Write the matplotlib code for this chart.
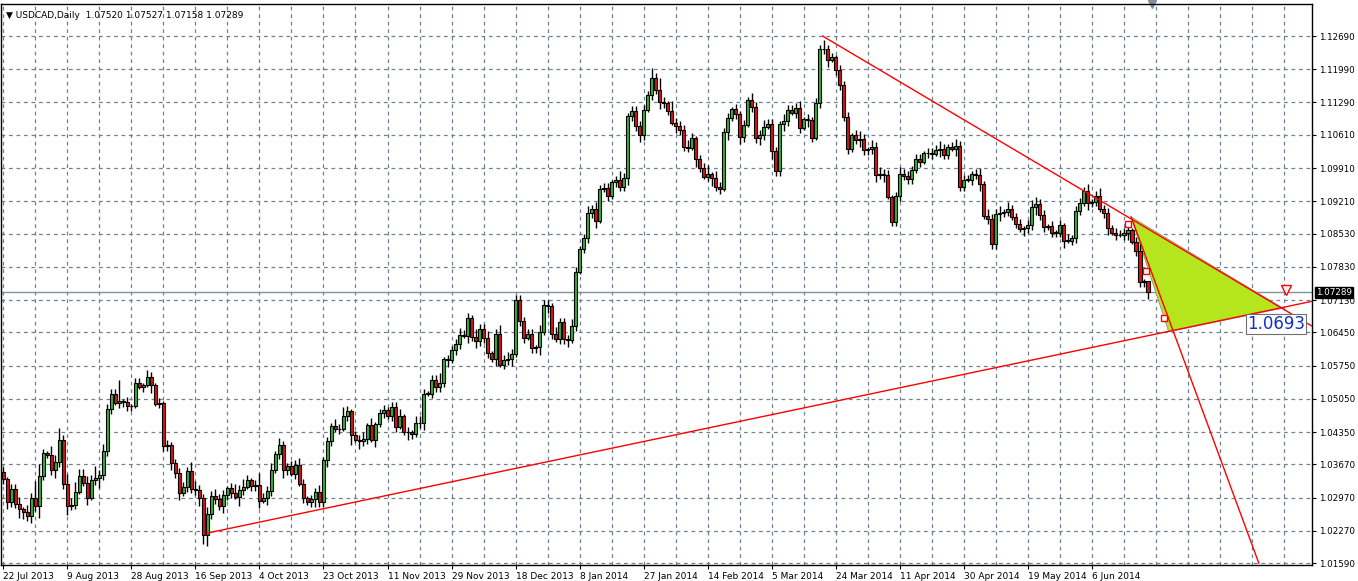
import matplotlib
matplotlib.use("Agg")
import matplotlib.pyplot as plt
from matplotlib.patches import Polygon, Rectangle
import numpy as np

# ---- data (closes in pips, 1e-4) ----
closes = [
10335,10287,10315,10284,10273,10266,10258,10297,10279,10343,
10390,10386,10354,10371,10419,10326,10280,10282,10309,10343,
10327,10297,10334,10338,10344,10395,10483,10516,10496,10500,
10498,10489,10490,10538,10530,10534,10551,10533,10495,10496,
10406,10408,10369,10349,10306,10319,10352,10316,10313,10295,
10219,10262,10301,10294,10280,10302,10317,10306,10299,10313,
10320,10334,10321,10323,10290,10296,10311,10354,10389,10407,
10354,10364,10347,10366,10326,10296,10287,10293,10308,10287,
10377,10415,10448,10441,10442,10468,10479,10428,10419,10415,
10420,10449,10418,10451,10474,10482,10468,10488,10446,10468,
10434,10435,10430,10453,10454,10516,10516,10544,10530,10539,
10588,10586,10607,10620,10640,10637,10676,10636,10627,10652,
10632,10601,10588,10641,10577,10587,10588,10599,10714,10668,
10633,10641,10611,10613,10645,10703,10701,10641,10630,10666,
10630,10628,10658,10772,10821,10843,10896,10904,10880,10946,
10949,10931,10961,10965,10952,10970,11101,11112,11079,11060,
11114,11144,11181,11156,11130,11128,11112,11086,11080,11071,
11036,11034,11054,11009,10992,10973,10978,10969,10952,10947,
11066,11096,11115,11105,11056,11082,11135,11119,11054,11060,
11078,11084,11026,10985,11084,11089,11114,11107,11117,11075,
11094,11093,11055,11128,11241,11241,11219,11224,11197,11165,
11099,11030,11060,11051,11053,11029,11030,11036,10977,10979,
10977,10930,10878,10931,10979,10975,10968,10986,11010,11004,
11022,11023,11021,11029,11032,11019,11036,11032,11037,10952,
10966,10966,10979,10977,10958,10889,10884,10830,10895,10897,
10899,10904,10887,10874,10862,10864,10871,10908,10915,10892,
10866,10869,10855,10855,10871,10838,10838,10844,10901,10917,
10942,10918,10920,10933,10904,10896,10865,10855,10850,10850,
10855,10860,10836,10816,10751,10753,10729]
first_open = 10351
last_open = 10752
# wick lengths, digit x 5 pips
upper_wicks = ("2122313275" "2143524343" "3325232229" "1212213212" "1212222432"
               "2323221242" "3212522313" "2122321223" "1213242122" "3131221223"
               "1213321224" "1222322132" "2312423222" "2221322132" "2232123232"
               "2212421222" "2242521422" "2321224132" "2212121322" "3222132223"
               "1212242212" "2212321323" "2212322222" "1222321232" "2212313223"
               "1322212332" "2121213122" "2312322122" "2212312322")
lower_wicks = ("2322432325" "2123224221" "1312422212" "2221121312" "2232312223"
               "4522232214" "2122313212" "3212121232" "2321212413" "2213121221"
               "1321231222" "2312213232" "2213122312" "2122313212" "2312122231"
               "1212223223" "2122322132" "2213212322" "1312321223" "2132232122"
               "1321223122" "2212322232" "3122222212" "1221322132" "2122312223"
               "2212132232" "2122231222" "1322123121" "2312222132")

date_labels = ["22 Jul 2013", "9 Aug 2013", "28 Aug 2013", "16 Sep 2013", "4 Oct 2013",
               "23 Oct 2013", "11 Nov 2013", "29 Nov 2013", "18 Dec 2013", "8 Jan 2014",
               "27 Jan 2014", "14 Feb 2014", "5 Mar 2014", "24 Mar 2014", "11 Apr 2014",
               "30 Apr 2014", "19 May 2014", "6 Jun 2014"]
price_ticks = [1.12690, 1.11990, 1.11290, 1.10610, 1.09910, 1.09210, 1.08530, 1.07830,
               1.07130, 1.06450, 1.05750, 1.05050, 1.04350, 1.03670, 1.02970, 1.02270, 1.01590]
current_price = 1.07289
box_value = "1.0693"

# trendlines (bar index, price)
line_up = [(50.9, 1.0222), (327.4, 1.0711)]
line_down = [(204.7, 1.1269), (327.4, 1.0656)]
line_steep = [(281.8, 1.0888), (313.7, 1.0159)]
triangle = [(281.8, 1.0888), (291.2, 1.0646), (319.7, 1.0696)]
squares = [(280.9, 1.0873), (285.4, 1.0774), (289.9, 1.0675)]

# ---- derive OHLC ----
n = len(closes)
c = np.array(closes) / 1e4
o = np.empty(n); o[0] = first_open / 1e4; o[1:] = c[:-1]; o[-1] = last_open / 1e4
uw = np.array([int(ch) for ch in upper_wicks[:n]]) * 5e-4
lw = np.array([int(ch) for ch in lower_wicks[:n]]) * 5e-4
h = np.maximum(o, c) + uw
l = np.minimum(o, c) - lw
h[-1] = 1.07527; l[-1] = 1.07158
idx = np.arange(n)

W, H = 1358, 581
fig = plt.figure(figsize=(W/100, H/100), dpi=100)
ax = fig.add_axes([1/W, 1-565/H, 1311/W, 561/H])
ax.set_xlim(-0.575, 327.0)
ax.set_ylim(1.01549, 1.13364)
grid_c = "#708090"
for p in price_ticks:
    ax.axhline(p, color=grid_c, lw=0.9, ls=(0, (3, 3)), zorder=0)
for k in range(0, 330, 8):
    ax.axvline(k, color=grid_c, lw=0.9, ls=(0, (3, 3)), zorder=0)

ax.axhline(current_price, color="#8090a0", lw=1, zorder=1)

# trendlines & triangle
ax.add_patch(Polygon(triangle, closed=True, facecolor="#B5E61D", edgecolor="#909090", lw=0.6, zorder=1))
for ln in (line_up, line_down, line_steep):
    ax.plot([ln[0][0], ln[1][0]], [ln[0][1], ln[1][1]], color="red", lw=1, zorder=4)

# candles
ax.vlines(idx, l, h, color="black", lw=1, zorder=2)
up = c >= o
body_b = np.minimum(o, c)
body_h = np.maximum(np.abs(c - o), 0.00008)
ax.bar(idx[up], body_h[up], bottom=body_b[up], width=0.8, color="#2fb52f", edgecolor="black", lw=0.8, zorder=3)
ax.bar(idx[~up], body_h[~up], bottom=body_b[~up], width=0.8, color="#e01010", edgecolor="black", lw=0.8, zorder=3)

for sx, sy in squares:
    ax.plot(sx, sy, marker="s", ms=4, mfc="white", mec="red", mew=1, zorder=5)
ax.plot(320.5, 1.0735, marker="v", ms=7, mfc="white", mec="red", mew=1, zorder=5)
ax.text(318.0, 1.0662, box_value, color="#1030c0", fontsize=12, ha="center", va="center",
        bbox=dict(boxstyle="square,pad=0.05", fc="white", ec="#707070", lw=0.8), zorder=6)

# axes styling
for s in ax.spines.values():
    s.set_color("black"); s.set_linewidth(1)
ax.yaxis.tick_right()
ax.set_yticks(price_ticks)
ax.set_yticklabels([f"{p:.5f}" for p in price_ticks], fontsize=6.3)
ax.tick_params(axis="y", length=3, pad=2)
ax.set_xticks(range(0, 16*len(date_labels), 16))
ax.set_xticklabels(date_labels, fontsize=6.5, ha="left")
ax.tick_params(axis="x", length=3, pad=2)
ax.text(1.003, current_price, f"{current_price:.5f}", transform=ax.get_yaxis_transform(),
        fontsize=6.3, color="white", ha="left", va="center", zorder=10,
        bbox=dict(boxstyle="square,pad=0.15", fc="black", ec="black"))
ax.text(0.004, 0.988, "\u25bc USDCAD,Daily  1.07520 1.07527 1.07158 1.07289", transform=ax.transAxes,
        fontsize=6.5, ha="left", va="top")
ax.plot([0.878], [1.0], marker="v", ms=6, color="#8090a0", transform=ax.transAxes, clip_on=False)
fig.savefig("out.png", dpi=100)
